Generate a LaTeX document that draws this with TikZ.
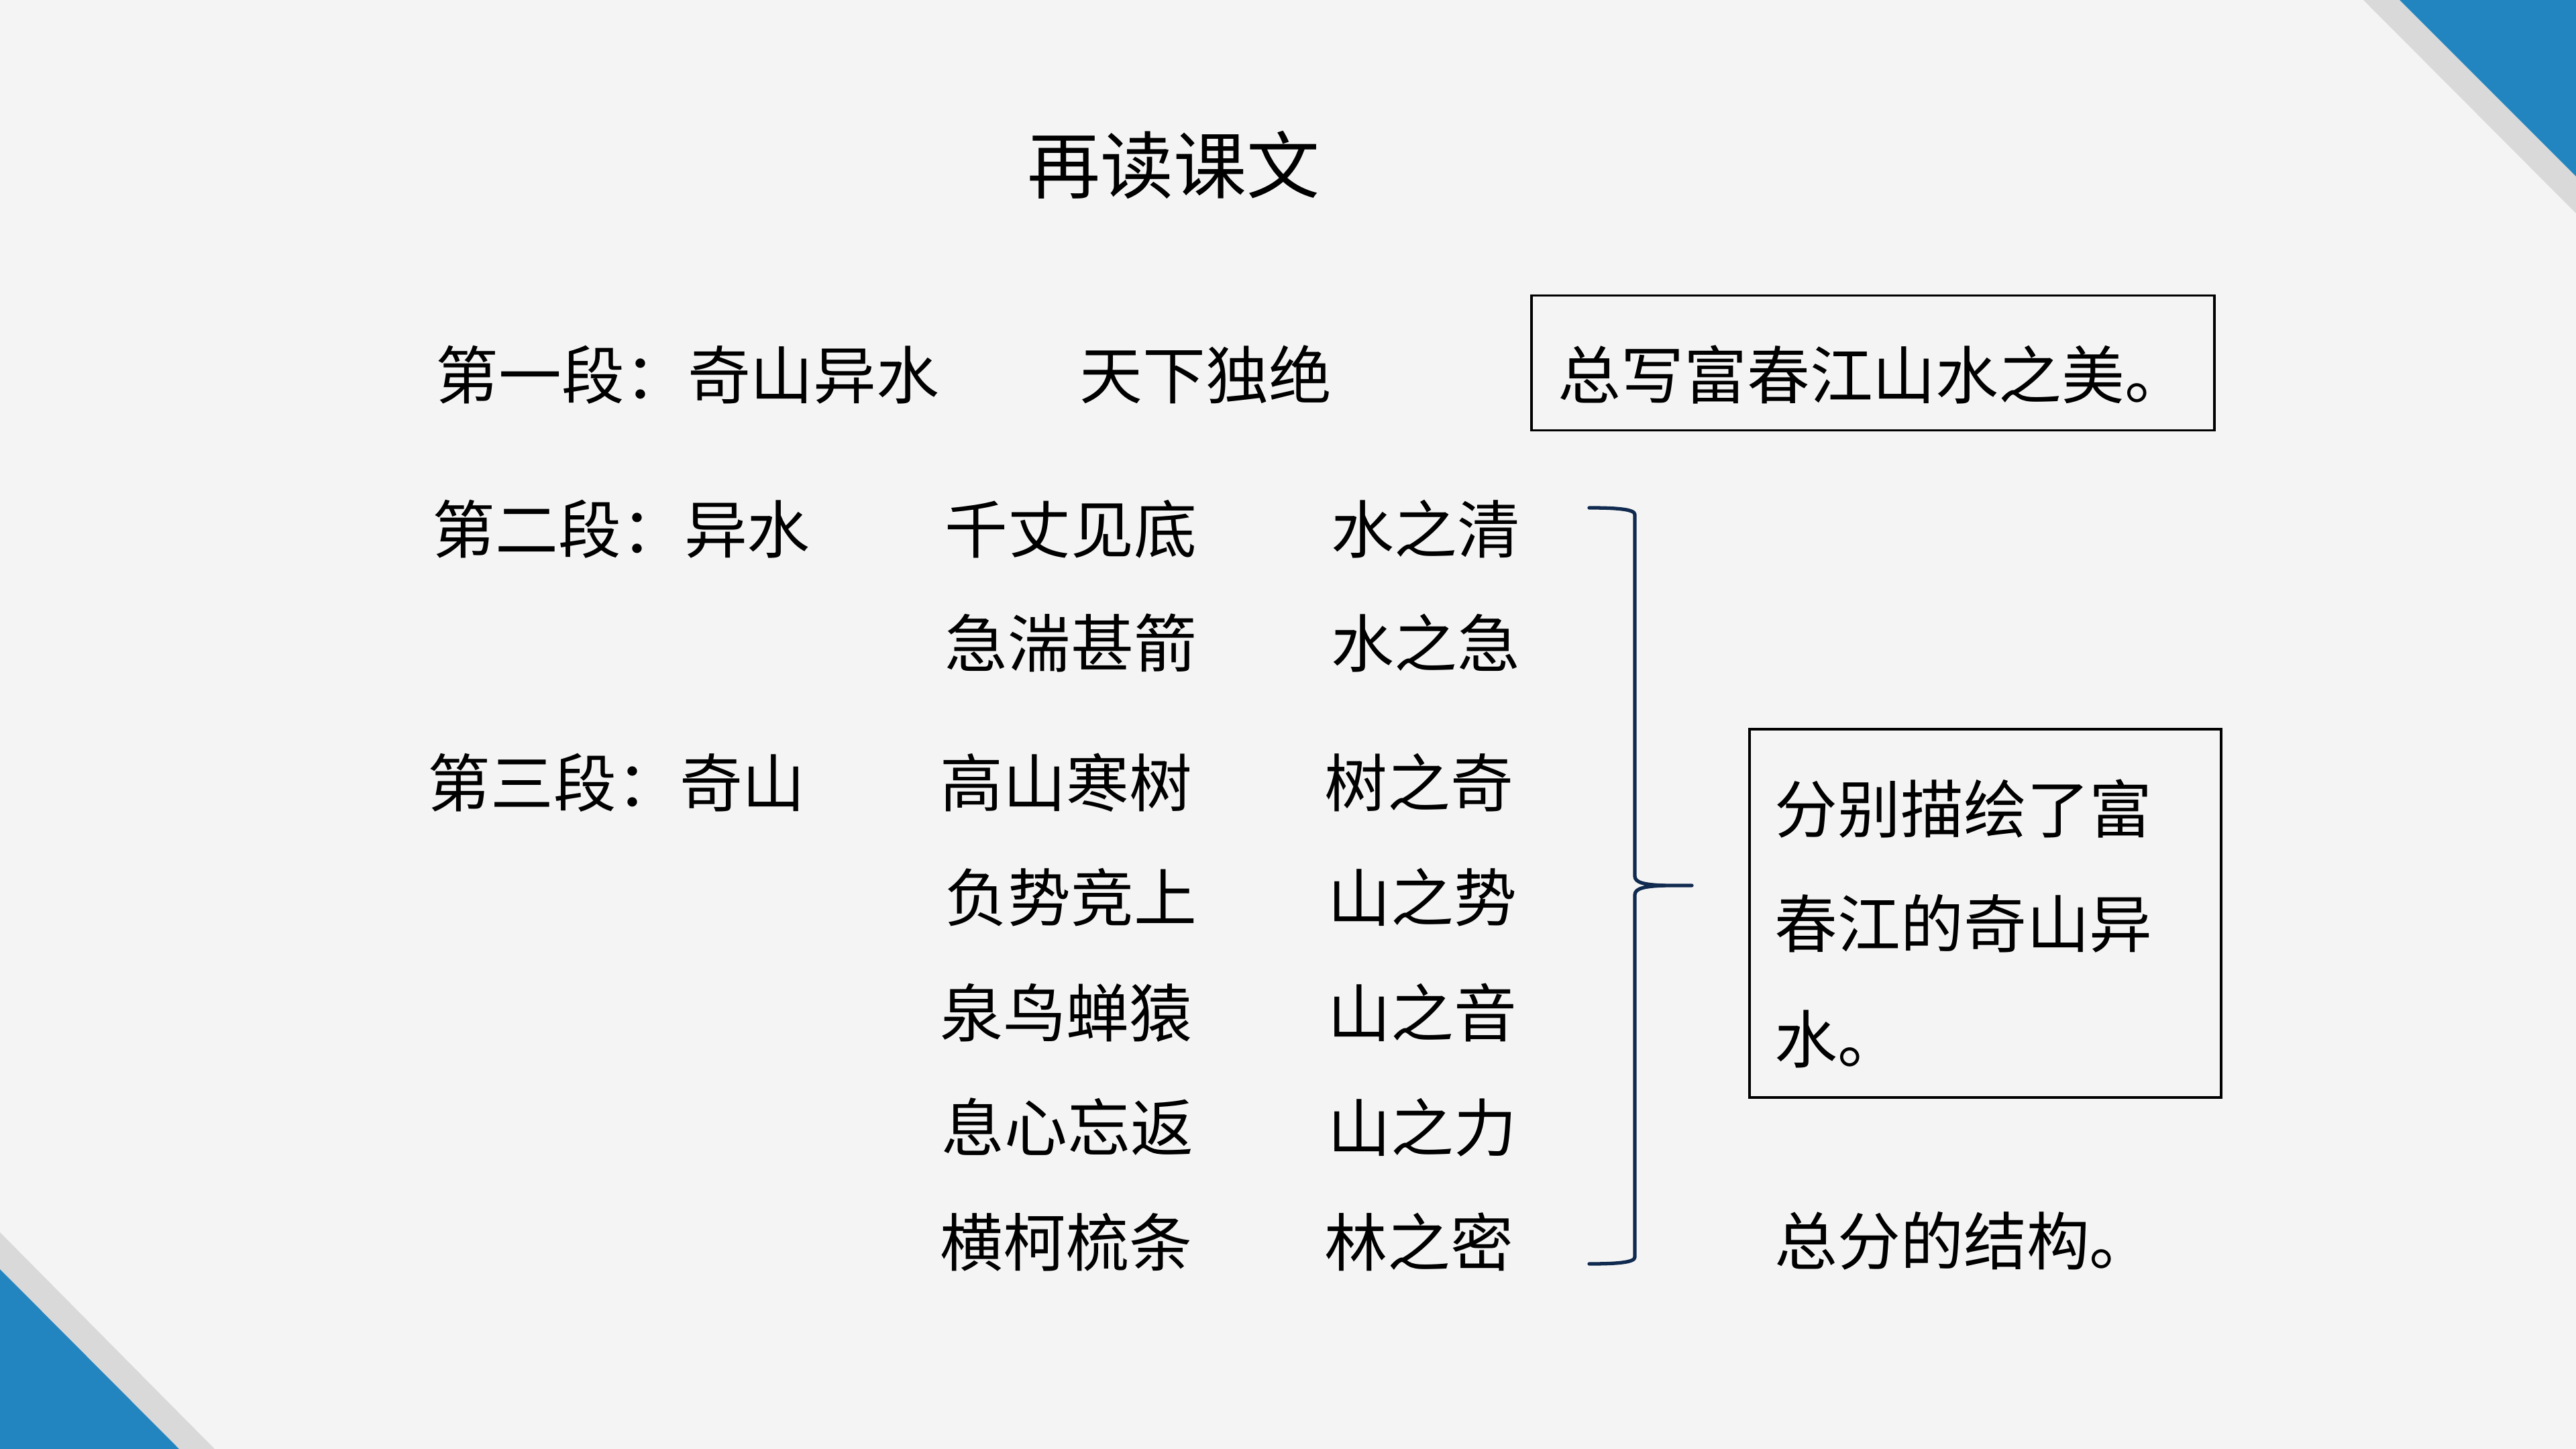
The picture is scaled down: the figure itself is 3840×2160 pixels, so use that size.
\documentclass[tikz,border=0pt]{standalone}
\usepackage{fontspec}
\setmainfont{Noto Sans CJK SC}
\newcommand\bodyfont{\fontsize{26.7pt}{32pt}\selectfont}
\newcommand\titlefont{\fontsize{31pt}{36pt}\selectfont}
\definecolor{bgc}{HTML}{F4F4F4}
\definecolor{cornerblue}{HTML}{2385BF}
\definecolor{stripegray}{HTML}{D9D9D9}
\definecolor{bracec}{HTML}{112B50}
\tikzset{
  txt/.style={anchor=base west, inner sep=0pt, font=\bodyfont, text=black},
  ttl/.style={anchor=base west, inner sep=0pt, font=\titlefont, text=black},
  framebox/.style={draw=black, line width=1pt, inner sep=0pt},
  bracepath/.style={draw=bracec, line width=1.5pt, line cap=round, line join=round},
}
\begin{document}
\begin{tikzpicture}[x=0.1mm,y=-0.1mm]
\useasboundingbox (0,0) rectangle (3840,2160);
\fill[bgc] (0,0) rectangle (3840,2160);
% corners
\fill[stripegray] (3523,0) -- (3577,0) -- (3840,263) -- (3840,318) -- cycle;
\fill[cornerblue] (3577,0) -- (3840,0) -- (3840,263) -- cycle;
\fill[stripegray] (0,1837) -- (0,1892) -- (267,2160) -- (320,2160) -- cycle;
\fill[cornerblue] (0,1892) -- (267,2160) -- (0,2160) -- cycle;
% title
\node[ttl] (title) at (1531,287) {再读课文};
% row 1
\node[txt] (p1) at (649,594) {第一段：奇山异水};
\node[txt] (p1b) at (1609,594) {天下独绝};
\node[framebox, minimum width=101.8mm, minimum height=20.1mm] (box1) at (2792,541) {};
\node[txt] (box1t) at (2322,594) {总写富春江山水之美。};
% row 2-3
\node[txt] (p2) at (644,824) {第二段：异水};
\node[txt] (r2b) at (1408,824) {千丈见底};
\node[txt] (r2c) at (1984,824) {水之清};
\node[txt] (r3b) at (1408,994) {急湍甚箭};
\node[txt] (r3c) at (1984,994) {水之急};
% rows 4-8
\node[txt] (p3) at (637,1202) {第三段：奇山};
\node[txt] (r4b) at (1401,1202) {高山寒树};
\node[txt] (r4c) at (1974,1202) {树之奇};
\node[txt] (r5b) at (1408,1373) {负势竞上};
\node[txt] (r5c) at (1979,1373) {山之势};
\node[txt] (r6b) at (1401,1545) {泉鸟蝉猿};
\node[txt] (r6c) at (1979,1545) {山之音};
\node[txt] (r7b) at (1403,1716) {息心忘返};
\node[txt] (r7c) at (1979,1716) {山之力};
\node[txt] (r8b) at (1401,1887) {横柯梳条};
\node[txt] (r8c) at (1974,1887) {林之密};
% brace
\coordinate (btop) at (2369,757);
\coordinate (bbot) at (2369,1884);
\coordinate (btip) at (2522,1320);
\draw[bracepath] (btop) .. controls (2410,757) and (2437,759) .. (2437,767)
  -- (2437,1306) .. controls (2437,1316) and (2452,1319) .. (2482,1320) -- (btip);
\draw[bracepath] (bbot) .. controls (2410,1884) and (2437,1882) .. (2437,1874)
  -- (2437,1334) .. controls (2437,1324) and (2452,1321) .. (2482,1320);
% box 2
\node[framebox, minimum width=70.3mm, minimum height=54.9mm] (box2) at (2959.5,1361.5) {};
\node[txt] (b2l1) at (2645,1241) {分别描绘了富};
\node[txt] (b2l2) at (2645,1412) {春江的奇山异};
\node[txt] (b2l3) at (2645,1584) {水。};
\node[txt] (concl) at (2645,1885) {总分的结构。};
\end{tikzpicture}
\end{document}
